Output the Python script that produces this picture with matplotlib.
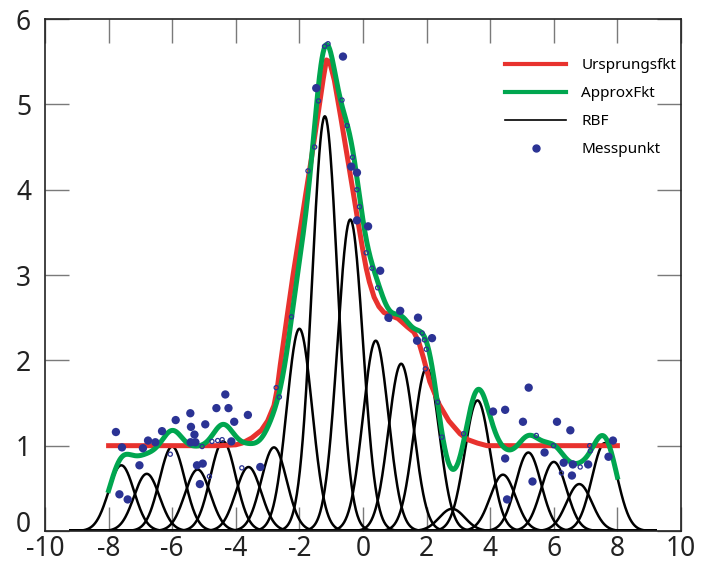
import numpy as np
import matplotlib

matplotlib.use("Agg")
import matplotlib.pyplot as plt
from matplotlib.lines import Line2D
from matplotlib.transforms import ScaledTranslation

plt.rcParams["font.family"] = ["Noto Sans", "DejaVu Sans"]
plt.rcParams["axes.unicode_minus"] = False

# Gaussian RBF centres and weights
rbf_centers = [-7.6, -6.8, -6.0, -5.2, -4.4, -3.6, -2.8, -2.0, -1.2, -0.4,
               0.4, 1.2, 2.0, 2.8, 3.6, 4.4, 5.2, 6.0, 6.8, 7.6]
rbf_weights = [0.77, 0.67, 0.99, 0.72, 1.05, 0.75, 0.98, 2.37, 4.86, 3.65,
               2.23, 1.96, 1.91, 0.26, 1.53, 0.66, 0.92, 0.81, 0.55, 1.03]
RBF_SIGMA = 0.4

# original function, sampled
orig_x = [-8.0, -4.5, -4.0, -3.8, -3.5, -3.2, -3.0, -2.8, -2.7, -2.6, -2.4,
          -2.2, -2.0, -1.8, -1.6, -1.4, -1.25, -1.15, -1.05, -0.9, -0.7,
          -0.5, -0.3, -0.2, 0.0, 0.1, 0.2, 0.35, 0.5, 0.66, 0.9, 1.1, 1.4,
          1.6, 1.75, 1.9, 2.1, 2.4, 2.7, 3.05, 3.3, 3.6, 3.9, 8.0]
orig_y = [1.0, 1.0, 1.01, 1.03, 1.09, 1.18, 1.29, 1.47, 1.66, 1.95, 2.48,
          3.0, 3.47, 3.95, 4.42, 4.92, 5.3, 5.52, 5.5, 5.28, 4.85,
          4.4, 3.95, 3.72, 3.28, 3.08, 2.92, 2.74, 2.63, 2.56, 2.52, 2.49, 2.39,
          2.33, 2.22, 2.03, 1.75, 1.48, 1.29, 1.14, 1.07, 1.03, 1.0, 1.0]

# measured samples (noisy)
meas_x = [-7.77, -7.58, -7.66, -7.40, -7.03, -6.92, -6.76, -6.53, -6.32, -5.89,
          -5.43, -5.41, -5.30, -5.42, -5.27, -5.22, -5.04, -5.13, -4.96, -4.33,
          -4.61, -4.23, -3.62, -4.05, -4.14, -3.23, -0.63, -1.47, -0.37, -0.19,
          -0.19, 0.16, 0.54, 0.80, 1.17, 1.73, 1.70, 2.17, 5.21, 4.09,
          4.47, 5.03, 6.10, 6.52, 7.86, 7.72, 4.47, 5.71, 6.31, 6.60,
          7.08, 6.57, 5.33, 4.53]
meas_y = [1.16, 0.98, 0.43, 0.37, 0.77, 0.97, 1.06, 1.04, 1.17, 1.30,
          1.38, 1.22, 1.13, 1.04, 1.04, 0.77, 0.79, 0.55, 1.25, 1.60,
          1.44, 1.44, 1.36, 1.28, 1.05, 0.75, 5.56, 5.19, 4.27, 4.20,
          3.64, 3.57, 3.05, 2.50, 2.58, 2.50, 2.23, 2.26, 1.68, 1.40,
          1.42, 1.28, 1.28, 1.18, 1.06, 0.87, 0.85, 0.92, 0.80, 0.78,
          0.78, 0.65, 0.58, 0.37]

# samples lying close to the curve
near_x = [-6.06, -5.06, -4.75, -4.57, -4.43, -4.83, -3.81, -2.73, -2.63, -2.25,
          -1.10, -1.21, -1.40, -0.66, -0.50, -1.52, -1.73, -0.33, -0.19, -0.11,
          0.10, 0.28, 0.46, 0.83, 1.86, 1.93, 1.99, 1.96, 2.35, 2.48,
          3.16, 5.45, 5.99, 6.83, 7.13, 7.15, 6.24]
near_y = [0.90, 0.99, 1.05, 1.06, 1.07, 0.64, 0.74, 1.68, 1.57, 2.51,
          5.71, 5.68, 5.04, 5.05, 4.75, 4.50, 4.22, 4.38, 4.00, 3.80,
          3.26, 3.08, 2.85, 2.48, 2.32, 2.24, 2.13, 1.90, 1.51, 1.10,
          1.14, 1.12, 1.00, 0.75, 1.00, 0.94, 0.68]

RED = "#e8322e"
GREEN = "#00a64f"
BLUE = "#2b3394"


def rbf(x, c, w):
    return w * np.exp(-(x - c) ** 2 / (2 * RBF_SIGMA ** 2))


fig = plt.figure(figsize=(7.01, 5.67), dpi=100)
ax = fig.add_axes([45 / 701, 36 / 567, 636 / 701, 512 / 567])

xs_rbf = np.linspace(-9.2, 9.2, 1200)
for c, w in zip(rbf_centers, rbf_weights):
    ax.plot(xs_rbf, rbf(xs_rbf, c, w), color="black", lw=1.8, zorder=2)

ax.plot(orig_x, orig_y, color=RED, lw=3.6, zorder=3)

xs_fit = np.linspace(-8, 8, 1000)
approx = sum(rbf(xs_fit, c, w) for c, w in zip(rbf_centers, rbf_weights))
ax.plot(xs_fit, approx, color=GREEN, lw=3.6, zorder=4)

ax.scatter(meas_x, meas_y, s=36, color=BLUE, edgecolors="none", zorder=5)
ax.scatter(near_x, near_y, s=9, facecolors="none", edgecolors=BLUE,
           linewidths=0.9, zorder=5)

ax.set_xlim(-10, 10)
ax.set_ylim(0, 6)
ax.set_xticks(np.arange(-10, 11, 2))
ax.set_yticks(np.arange(0, 7, 1))
ax.tick_params(direction="in", length=17, width=1, color="#7a7a7a",
               top=True, right=True, labelsize=19, labelcolor="#222222")
ax.tick_params(axis="y", pad=10)
ax.tick_params(axis="x", pad=3)
for sp in ax.spines.values():
    sp.set_linewidth(1.2)
    sp.set_color("#222222")

# lift the y "0" a little so it clears the "-10" below it
fig.canvas.draw()
zero_lbl = ax.get_yticklabels()[0]
zero_lbl.set_transform(zero_lbl.get_transform()
                       + ScaledTranslation(0, 7 / 72, fig.dpi_scale_trans))

handles = [
    Line2D([], [], color=RED, lw=3),
    Line2D([], [], color=GREEN, lw=3),
    Line2D([], [], color="black", lw=1.2),
    Line2D([], [], color=BLUE, marker="o", ls="none", markersize=5),
]
labels = ["Ursprungsfkt", "ApproxFkt", "RBF", "Messpunkt"]
ax.legend(handles, labels, loc="upper left",
          bbox_to_anchor=(505 / 701, 1 - 58 / 567), bbox_transform=fig.transFigure,
          frameon=False, fontsize=11, handlelength=4.0, handletextpad=1.0,
          labelspacing=0.85, borderpad=0, borderaxespad=0)

fig.savefig("out.png", dpi=100)
